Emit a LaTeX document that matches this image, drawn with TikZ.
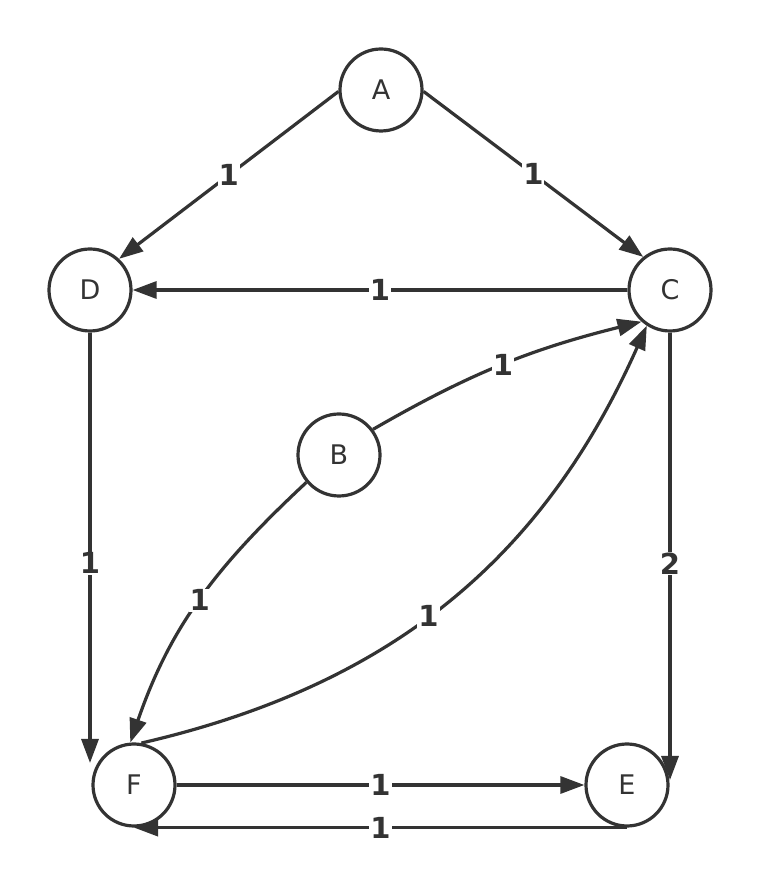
\documentclass[tikz,border=0pt]{standalone}
\usepackage{fontspec}
\setmainfont{DejaVu Sans}
\usetikzlibrary{arrows.meta}
\definecolor{ink}{HTML}{333333}
\begin{document}
\begin{tikzpicture}[x=1pt,y=1pt,
  vertex/.style={circle,draw=ink,line width=3.2pt,fill=white,minimum size=82pt,inner sep=0pt,
    font=\fontsize{27}{27}\selectfont,text=ink},
  edge/.style={draw=ink,line width=3.2pt,-{Triangle[length=24pt,width=17pt]}},
  wlabel/.style={fill=white,inner sep=1pt,font=\bfseries\fontsize{29}{29}\selectfont,text=ink}]
\useasboundingbox (0,0) rectangle (762,878);
\fill[white] (0,0) rectangle (762,878);
\node[vertex] (A) at (381,788) {A};
\node[vertex] (D) at (90,588) {D};
\node[vertex] (C) at (670,588) {C};
\node[vertex] (B) at (339,423) {B};
\node[vertex] (F) at (134,93) {F};
\node[vertex] (E) at (627,93) {E};
\coordinate (fD) at (90,115);
\coordinate (eC) at (670,98);
% straight edges
\draw[edge] (A.182) -- node[wlabel]{1} (D.47);
\draw[edge] (A.-2) -- node[wlabel]{1} (C.129);
\draw[edge] (C) -- node[wlabel]{1} (D);
\draw[edge] (D.south) -- node[wlabel,pos=0.536]{1} (fD);
\draw[edge] (C.south) -- node[wlabel,pos=0.516]{2} (eC);
\draw[edge] (F) -- node[wlabel]{1} (E);
\draw[edge] (E.south) -- node[wlabel]{1} (F.south);
% curved edges
\draw[edge] (B.37) to[out=30,in=194] node[wlabel]{1} (C.228);
\draw[edge] (B.220) to[out=223,in=71] node[wlabel]{1} (F.95);
\draw[edge] (F.80) to[out=13,in=246] node[wlabel,pos=0.46]{1} (C.237);
\end{tikzpicture}
\end{document}
